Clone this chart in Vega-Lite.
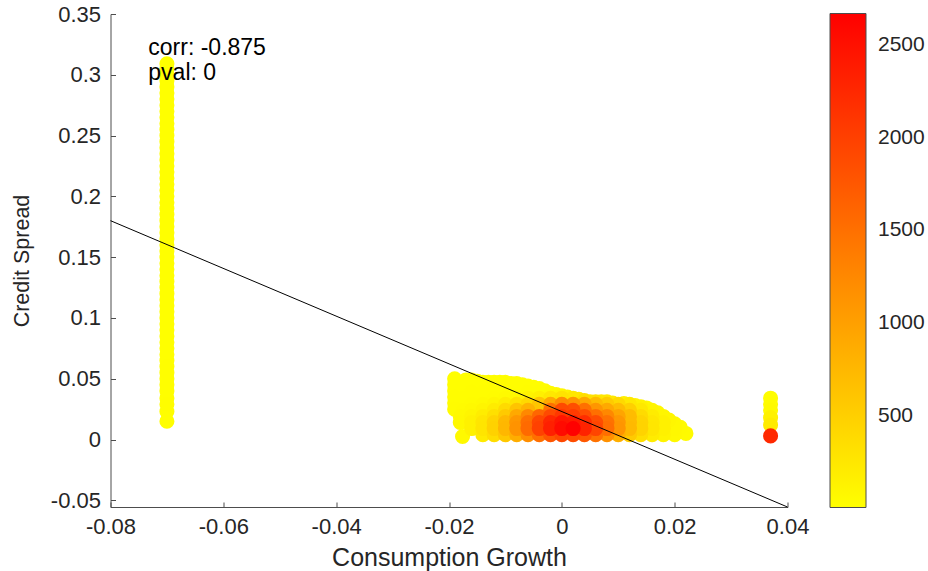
{
  "$schema": "https://vega.github.io/schema/vega-lite/v6.json",
  "width": 677,
  "height": 493,
  "autosize": {"type": "none"},
  "padding": {"left": 110.5, "top": 14, "right": 140.5, "bottom": 64},
  "background": "white",
  "config": {
    "view": {"stroke": null},
    "font": "Liberation Sans",
    "axis": {
      "grid": false,
      "domainColor": "#4d4d4d",
      "tickColor": "#4d4d4d",
      "tickSize": -5,
      "labelFont": "Liberation Sans",
      "labelFontSize": 22,
      "labelColor": "#262626",
      "labelFlush": false,
      "titleFont": "Liberation Sans",
      "titleFontWeight": "normal",
      "titleColor": "#262626"
    }
  },
  "datasets": {
    "pts": [
      {"x": -0.07, "y": 0.015, "c": 20}, {"x": -0.07, "y": 0.023, "c": 18}, {"x": -0.07, "y": 0.029, "c": 22}, {"x": -0.07, "y": 0.034, "c": 15},
      {"x": -0.07, "y": 0.04, "c": 12}, {"x": -0.07, "y": 0.045, "c": 14}, {"x": -0.07, "y": 0.05, "c": 10}, {"x": -0.07, "y": 0.055, "c": 12},
      {"x": -0.07, "y": 0.06, "c": 11}, {"x": -0.07, "y": 0.065, "c": 10}, {"x": -0.07, "y": 0.07, "c": 9}, {"x": -0.07, "y": 0.075, "c": 10},
      {"x": -0.07, "y": 0.08, "c": 9}, {"x": -0.07, "y": 0.085, "c": 8}, {"x": -0.07, "y": 0.09, "c": 9}, {"x": -0.07, "y": 0.095, "c": 8},
      {"x": -0.07, "y": 0.1, "c": 8}, {"x": -0.07, "y": 0.105, "c": 7}, {"x": -0.07, "y": 0.11, "c": 8}, {"x": -0.07, "y": 0.115, "c": 7},
      {"x": -0.07, "y": 0.12, "c": 7}, {"x": -0.07, "y": 0.125, "c": 7}, {"x": -0.07, "y": 0.13, "c": 6}, {"x": -0.07, "y": 0.135, "c": 7},
      {"x": -0.07, "y": 0.14, "c": 6}, {"x": -0.07, "y": 0.145, "c": 6}, {"x": -0.07, "y": 0.15, "c": 6}, {"x": -0.07, "y": 0.155, "c": 6},
      {"x": -0.07, "y": 0.16, "c": 6}, {"x": -0.07, "y": 0.165, "c": 6}, {"x": -0.07, "y": 0.17, "c": 6}, {"x": -0.07, "y": 0.175, "c": 6},
      {"x": -0.07, "y": 0.18, "c": 6}, {"x": -0.07, "y": 0.185, "c": 6}, {"x": -0.07, "y": 0.19, "c": 6}, {"x": -0.07, "y": 0.195, "c": 6},
      {"x": -0.07, "y": 0.2, "c": 6}, {"x": -0.07, "y": 0.205, "c": 6}, {"x": -0.07, "y": 0.21, "c": 6}, {"x": -0.07, "y": 0.215, "c": 6},
      {"x": -0.07, "y": 0.22, "c": 6}, {"x": -0.07, "y": 0.225, "c": 6}, {"x": -0.07, "y": 0.23, "c": 6}, {"x": -0.07, "y": 0.235, "c": 6},
      {"x": -0.07, "y": 0.24, "c": 6}, {"x": -0.07, "y": 0.245, "c": 6}, {"x": -0.07, "y": 0.25, "c": 6}, {"x": -0.07, "y": 0.255, "c": 6},
      {"x": -0.07, "y": 0.26, "c": 6}, {"x": -0.07, "y": 0.265, "c": 6}, {"x": -0.07, "y": 0.27, "c": 6}, {"x": -0.07, "y": 0.275, "c": 6},
      {"x": -0.07, "y": 0.28, "c": 6}, {"x": -0.07, "y": 0.285, "c": 6}, {"x": -0.07, "y": 0.29, "c": 6}, {"x": -0.07, "y": 0.295, "c": 6},
      {"x": -0.07, "y": 0.3, "c": 6}, {"x": -0.07, "y": 0.305, "c": 6}, {"x": -0.07, "y": 0.309, "c": 6},

      {"x": 0.037, "y": 0.003, "c": 2250}, {"x": 0.037, "y": 0.012, "c": 210}, {"x": 0.037, "y": 0.018, "c": 150},
      {"x": 0.037, "y": 0.024, "c": 60}, {"x": 0.037, "y": 0.029, "c": 40}, {"x": 0.037, "y": 0.034, "c": 30},

      {"x": -0.019, "y": 0.025, "c": 33}, {"x": -0.019, "y": 0.03, "c": 25}, {"x": -0.019, "y": 0.035, "c": 21},
      {"x": -0.019, "y": 0.04, "c": 20}, {"x": -0.019, "y": 0.045, "c": 20}, {"x": -0.019, "y": 0.05, "c": 20},
      {"x": -0.0176, "y": 0.0025, "c": 70},
      {"x": -0.018, "y": 0.014, "c": 81}, {"x": -0.018, "y": 0.019, "c": 64},
      {"x": -0.0175, "y": 0.024, "c": 45}, {"x": -0.0175, "y": 0.029, "c": 30}, {"x": -0.0175, "y": 0.034, "c": 22},
      {"x": -0.0175, "y": 0.039, "c": 20}, {"x": -0.0175, "y": 0.044, "c": 20},

      {"x": -0.017, "y": 0.049, "c": 20}, {"x": -0.015, "y": 0.048, "c": 20}, {"x": -0.013, "y": 0.047, "c": 20},
      {"x": -0.011, "y": 0.047, "c": 20}, {"x": -0.009, "y": 0.046, "c": 21}, {"x": -0.007, "y": 0.045, "c": 21},
      {"x": -0.005, "y": 0.043, "c": 24}, {"x": -0.003, "y": 0.04, "c": 40}, {"x": -0.001, "y": 0.037, "c": 80},
      {"x": 0.001, "y": 0.035, "c": 150}, {"x": 0.003, "y": 0.033, "c": 260}, {"x": 0.005, "y": 0.031, "c": 300},
      {"x": 0.007, "y": 0.031, "c": 260}, {"x": 0.009, "y": 0.03, "c": 220}, {"x": 0.011, "y": 0.0295, "c": 160},
      {"x": 0.013, "y": 0.028, "c": 110}, {"x": 0.015, "y": 0.026, "c": 80}, {"x": 0.017, "y": 0.022, "c": 90},
      {"x": 0.019, "y": 0.016, "c": 95}, {"x": 0.021, "y": 0.01, "c": 60},

      {"x": -0.016, "y": 0.009, "c": 152}, {"x": -0.016, "y": 0.014, "c": 148}, {"x": -0.016, "y": 0.019, "c": 111},
      {"x": -0.016, "y": 0.024, "c": 68}, {"x": -0.016, "y": 0.029, "c": 38}, {"x": -0.016, "y": 0.034, "c": 25},
      {"x": -0.016, "y": 0.039, "c": 21}, {"x": -0.016, "y": 0.044, "c": 20}, {"x": -0.016, "y": 0.049, "c": 20},

      {"x": -0.014, "y": 0.004, "c": 212}, {"x": -0.014, "y": 0.009, "c": 274}, {"x": -0.014, "y": 0.014, "c": 266},
      {"x": -0.014, "y": 0.019, "c": 195}, {"x": -0.014, "y": 0.024, "c": 112}, {"x": -0.014, "y": 0.029, "c": 55},
      {"x": -0.014, "y": 0.034, "c": 30}, {"x": -0.014, "y": 0.039, "c": 22}, {"x": -0.014, "y": 0.044, "c": 20}, {"x": -0.014, "y": 0.047, "c": 20},

      {"x": -0.012, "y": 0.004, "c": 362}, {"x": -0.012, "y": 0.009, "c": 472}, {"x": -0.012, "y": 0.014, "c": 458},
      {"x": -0.012, "y": 0.019, "c": 332}, {"x": -0.012, "y": 0.024, "c": 200}, {"x": -0.012, "y": 0.029, "c": 100},
      {"x": -0.012, "y": 0.034, "c": 40}, {"x": -0.012, "y": 0.039, "c": 24}, {"x": -0.012, "y": 0.044, "c": 21}, {"x": -0.012, "y": 0.047, "c": 20},

      {"x": -0.01, "y": 0.004, "c": 579}, {"x": -0.01, "y": 0.009, "c": 759}, {"x": -0.01, "y": 0.014, "c": 736},
      {"x": -0.01, "y": 0.019, "c": 560}, {"x": -0.01, "y": 0.024, "c": 380}, {"x": -0.01, "y": 0.029, "c": 180},
      {"x": -0.01, "y": 0.034, "c": 55}, {"x": -0.01, "y": 0.039, "c": 26}, {"x": -0.01, "y": 0.044, "c": 21}, {"x": -0.01, "y": 0.047, "c": 20},

      {"x": -0.008, "y": 0.004, "c": 859}, {"x": -0.008, "y": 0.009, "c": 1129}, {"x": -0.008, "y": 0.014, "c": 1095},
      {"x": -0.008, "y": 0.019, "c": 900}, {"x": -0.008, "y": 0.024, "c": 620}, {"x": -0.008, "y": 0.029, "c": 300},
      {"x": -0.008, "y": 0.034, "c": 80}, {"x": -0.008, "y": 0.039, "c": 29}, {"x": -0.008, "y": 0.044, "c": 21}, {"x": -0.008, "y": 0.046, "c": 20},

      {"x": -0.006, "y": 0.004, "c": 1186}, {"x": -0.006, "y": 0.009, "c": 1560}, {"x": -0.006, "y": 0.014, "c": 1513},
      {"x": -0.006, "y": 0.019, "c": 1250}, {"x": -0.006, "y": 0.024, "c": 800}, {"x": -0.006, "y": 0.029, "c": 400},
      {"x": -0.006, "y": 0.034, "c": 120}, {"x": -0.006, "y": 0.039, "c": 33}, {"x": -0.006, "y": 0.044, "c": 22},

      {"x": -0.004, "y": 0.004, "c": 1509}, {"x": -0.004, "y": 0.009, "c": 1987}, {"x": -0.004, "y": 0.014, "c": 1926},
      {"x": -0.004, "y": 0.019, "c": 1600}, {"x": -0.004, "y": 0.024, "c": 500}, {"x": -0.004, "y": 0.029, "c": 600},
      {"x": -0.004, "y": 0.034, "c": 160}, {"x": -0.004, "y": 0.039, "c": 40}, {"x": -0.004, "y": 0.042, "c": 25},

      {"x": -0.002, "y": 0.004, "c": 1772}, {"x": -0.002, "y": 0.009, "c": 2334}, {"x": -0.002, "y": 0.014, "c": 2263},
      {"x": -0.002, "y": 0.019, "c": 1900}, {"x": -0.002, "y": 0.024, "c": 1500}, {"x": -0.002, "y": 0.029, "c": 900},
      {"x": -0.002, "y": 0.034, "c": 250}, {"x": -0.002, "y": 0.038, "c": 60},

      {"x": 0.0, "y": 0.004, "c": 1922}, {"x": 0.0, "y": 0.009, "c": 2560}, {"x": 0.0, "y": 0.014, "c": 2455},
      {"x": 0.0, "y": 0.019, "c": 2100}, {"x": 0.0, "y": 0.024, "c": 1900}, {"x": 0.0, "y": 0.029, "c": 1200},
      {"x": 0.0, "y": 0.034, "c": 300}, {"x": 0.0, "y": 0.036, "c": 110},

      {"x": 0.002, "y": 0.004, "c": 1880}, {"x": 0.002, "y": 0.009, "c": 2660}, {"x": 0.002, "y": 0.014, "c": 2400},
      {"x": 0.002, "y": 0.019, "c": 2050}, {"x": 0.002, "y": 0.024, "c": 1850}, {"x": 0.002, "y": 0.029, "c": 1100},
      {"x": 0.002, "y": 0.034, "c": 260},

      {"x": 0.004, "y": 0.004, "c": 1750}, {"x": 0.004, "y": 0.009, "c": 2300}, {"x": 0.004, "y": 0.014, "c": 2200},
      {"x": 0.004, "y": 0.019, "c": 1850}, {"x": 0.004, "y": 0.024, "c": 1500}, {"x": 0.004, "y": 0.029, "c": 900},
      {"x": 0.004, "y": 0.032, "c": 350},

      {"x": 0.006, "y": 0.004, "c": 1480}, {"x": 0.006, "y": 0.009, "c": 1950}, {"x": 0.006, "y": 0.014, "c": 1880},
      {"x": 0.006, "y": 0.019, "c": 1500}, {"x": 0.006, "y": 0.024, "c": 1100}, {"x": 0.006, "y": 0.029, "c": 700},
      {"x": 0.006, "y": 0.031, "c": 320},

      {"x": 0.008, "y": 0.004, "c": 1150}, {"x": 0.008, "y": 0.009, "c": 1520}, {"x": 0.008, "y": 0.014, "c": 1480},
      {"x": 0.008, "y": 0.019, "c": 1250}, {"x": 0.008, "y": 0.024, "c": 900}, {"x": 0.008, "y": 0.029, "c": 550},
      {"x": 0.008, "y": 0.031, "c": 260},

      {"x": 0.01, "y": 0.004, "c": 840}, {"x": 0.01, "y": 0.009, "c": 1110}, {"x": 0.01, "y": 0.014, "c": 1080},
      {"x": 0.01, "y": 0.019, "c": 950}, {"x": 0.01, "y": 0.024, "c": 700}, {"x": 0.01, "y": 0.029, "c": 400},

      {"x": 0.012, "y": 0.004, "c": 560}, {"x": 0.012, "y": 0.009, "c": 740}, {"x": 0.012, "y": 0.014, "c": 720},
      {"x": 0.012, "y": 0.019, "c": 700}, {"x": 0.012, "y": 0.024, "c": 500}, {"x": 0.012, "y": 0.029, "c": 250},

      {"x": 0.014, "y": 0.004, "c": 350}, {"x": 0.014, "y": 0.009, "c": 460}, {"x": 0.014, "y": 0.014, "c": 450},
      {"x": 0.014, "y": 0.019, "c": 380}, {"x": 0.014, "y": 0.024, "c": 250}, {"x": 0.014, "y": 0.027, "c": 150},

      {"x": 0.016, "y": 0.004, "c": 205}, {"x": 0.016, "y": 0.009, "c": 268}, {"x": 0.016, "y": 0.014, "c": 260},
      {"x": 0.016, "y": 0.019, "c": 200}, {"x": 0.016, "y": 0.024, "c": 120},

      {"x": 0.018, "y": 0.004, "c": 120}, {"x": 0.018, "y": 0.009, "c": 152}, {"x": 0.018, "y": 0.014, "c": 148},
      {"x": 0.018, "y": 0.019, "c": 111},

      {"x": 0.02, "y": 0.004, "c": 68}, {"x": 0.02, "y": 0.009, "c": 83}, {"x": 0.02, "y": 0.013, "c": 83},
      {"x": 0.022, "y": 0.005, "c": 43}
    ],
    "fit": [
      {"x": -0.08, "y": 0.18},
      {"x": 0.04, "y": -0.0555}
    ],
    "ann": [
      {"x": -0.0733, "y": 0.3163, "t": "corr: -0.875"},
      {"x": -0.0733, "y": 0.2958, "t": "pval: 0"}
    ]
  },
  "encoding": {
    "x": {
      "field": "x",
      "type": "quantitative",
      "scale": {"domain": [-0.08, 0.04], "nice": false, "zero": false},
      "axis": {
        "title": "Consumption Growth",
        "titleFontSize": 25,
        "values": [-0.08, -0.06, -0.04, -0.02, 0, 0.02, 0.04],
        "labelExpr": "'' + datum.value",
        "labelPadding": 14,
        "titleBaseline": "alphabetic",
        "titleY": 58
      }
    },
    "y": {
      "field": "y",
      "type": "quantitative",
      "scale": {"domain": [-0.0555, 0.35], "nice": false, "zero": false},
      "axis": {
        "title": "Credit Spread",
        "titleFontSize": 21.5,
        "values": [-0.05, 0, 0.05, 0.1, 0.15, 0.2, 0.25, 0.3, 0.35],
        "labelExpr": "'' + datum.value",
        "labelPadding": 15,
        "titleX": -88,
        "titleY": 246.5,
        "titleAngle": -90,
        "titleAlign": "center",
        "titleBaseline": "middle"
      }
    }
  },
  "layer": [
    {
      "data": {"name": "pts"},
      "mark": {"type": "circle", "size": 227, "opacity": 1, "strokeWidth": 0},
      "encoding": {
        "color": {
          "field": "c",
          "type": "quantitative",
          "scale": {"domain": [5, 2670], "range": ["#ffff00", "#ff0000"], "interpolate": "rgb"},
          "legend": {
            "orient": "none",
            "legendX": 719.5,
            "legendY": -0.5,
            "direction": "vertical",
            "gradientLength": 494,
            "gradientThickness": 36,
            "title": null,
            "values": [500, 1000, 1500, 2000, 2500],
            "format": "d",
            "labelFontSize": 21,
            "labelFont": "Liberation Sans",
            "labelColor": "#262626",
            "labelOffset": 12,
            "labelOverlap": false,
            "gradientStrokeColor": "#4d4d4d",
            "gradientStrokeWidth": 1,
            "padding": 0
          }
        },
        "order": {"field": "c", "type": "quantitative", "sort": "ascending"}
      }
    },
    {
      "data": {"name": "fit"},
      "mark": {"type": "line", "color": "#000000", "strokeWidth": 1},
      "encoding": {}
    },
    {
      "data": {"name": "ann"},
      "mark": {"type": "text", "align": "left", "baseline": "alphabetic", "fontSize": 23, "font": "Liberation Sans", "color": "#000000"},
      "encoding": {"text": {"field": "t", "type": "nominal"}}
    }
  ]
}
